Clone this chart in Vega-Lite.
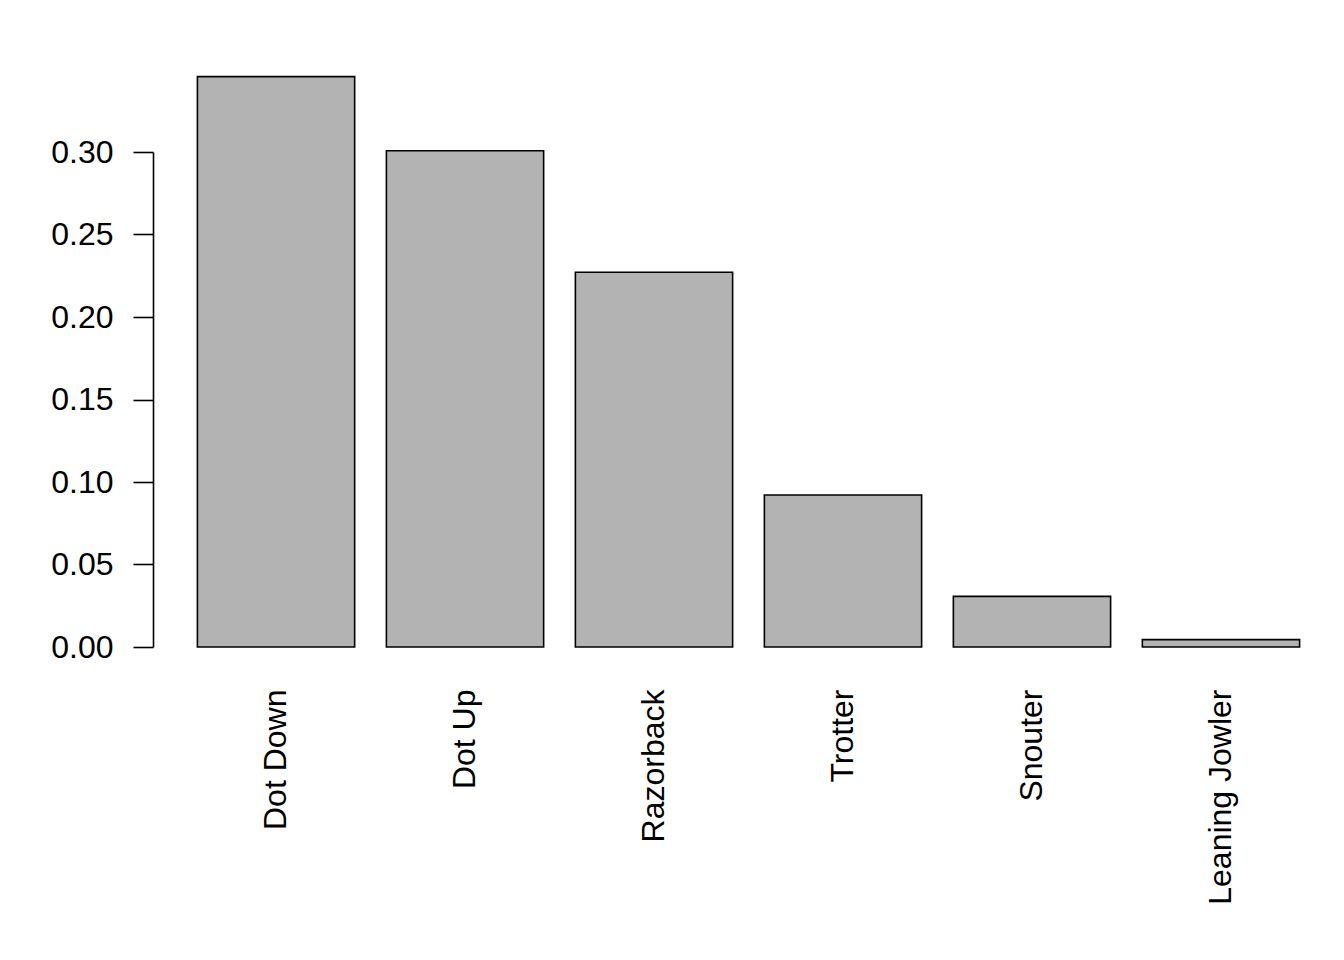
{
  "$schema": "https://vega.github.io/schema/vega-lite/v6.json",
  "autosize": {"type": "none"},
  "padding": {"left": 153, "top": 152, "right": 0, "bottom": 313},
  "width": 1191,
  "height": 495,
  "background": "white",
  "config": {
    "view": {"stroke": null},
    "font": "Liberation Sans",
    "axis": {
      "labelFont": "Liberation Sans",
      "labelFontSize": 32,
      "labelColor": "black",
      "grid": false,
      "title": null
    }
  },
  "data": {
    "values": [
      {"position": "Dot Down", "prob": 0.3457},
      {"position": "Dot Up", "prob": 0.3008},
      {"position": "Razorback", "prob": 0.2271},
      {"position": "Trotter", "prob": 0.0921},
      {"position": "Snouter", "prob": 0.0307},
      {"position": "Leaning Jowler", "prob": 0.0045}
    ]
  },
  "mark": {"type": "bar", "fill": "#b3b3b3", "stroke": "black", "strokeWidth": 1.6},
  "encoding": {
    "x": {
      "field": "position",
      "type": "nominal",
      "sort": null,
      "scale": {"paddingInner": 0.168, "paddingOuter": 0.235},
      "axis": {
        "labelAngle": -90,
        "labelPadding": 42,
        "labelLimit": 0,
        "labelOverlap": false,
        "domain": false,
        "ticks": false
      }
    },
    "y": {
      "field": "prob",
      "type": "quantitative",
      "scale": {"domain": [0, 0.3], "nice": false, "clamp": false},
      "axis": {
        "values": [0, 0.05, 0.1, 0.15, 0.2, 0.25, 0.3],
        "format": ".2f",
        "domainColor": "black",
        "domainWidth": 1.6,
        "tickColor": "black",
        "tickWidth": 1.6,
        "tickSize": 20,
        "labelPadding": 20,
        "labelBaseline": "middle"
      }
    }
  }
}
